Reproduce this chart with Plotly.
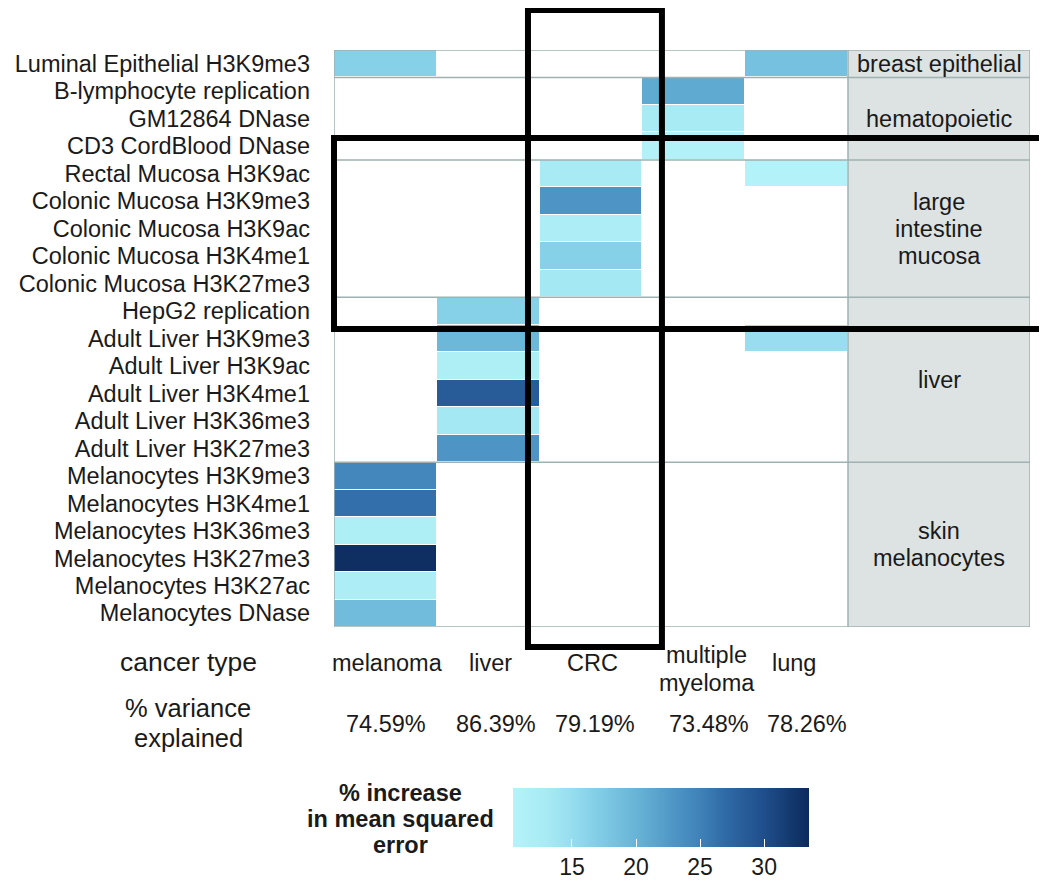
import plotly.graph_objects as go

W, H = 1047, 883
OFF = 8  # page body margin offset in the browser
FONT = "Liberation Sans, Arial, Helvetica, sans-serif"
TXT = "#1a1a1a"
GRID = "#9fb1b1"
TISSUE_FILL = "#dde3e3"

# ---------------- data ----------------
features = [
    "Luminal Epithelial H3K9me3",
    "B-lymphocyte replication",
    "GM12864 DNase",
    "CD3 CordBlood DNase",
    "Rectal Mucosa H3K9ac",
    "Colonic Mucosa H3K9me3",
    "Colonic Mucosa H3K9ac",
    "Colonic Mucosa H3K4me1",
    "Colonic Mucosa H3K27me3",
    "HepG2 replication",
    "Adult Liver H3K9me3",
    "Adult Liver H3K9ac",
    "Adult Liver H3K4me1",
    "Adult Liver H3K36me3",
    "Adult Liver H3K27me3",
    "Melanocytes H3K9me3",
    "Melanocytes H3K4me1",
    "Melanocytes H3K36me3",
    "Melanocytes H3K27me3",
    "Melanocytes H3K27ac",
    "Melanocytes DNase",
]

cancer_types = ["melanoma", "liver", "CRC", "multiple myeloma", "lung"]
variance_explained = ["74.59%", "86.39%", "79.19%", "73.48%", "78.26%"]

N = None
melanoma = [16.5, N, N, N, N, N, N, N, N, N, N, N, N, N, N, 24.5, 26.5, 11.8, 33.0, 12.2, 19.0]
liver = [N, N, N, N, N, N, N, N, N, 16.5, 19.5, 11.8, 28.5, 13.5, 23.0, N, N, N, N, N, N]
crc = [N, N, N, N, 13.0, 23.0, 12.0, 16.5, 13.5, N, N, N, N, N, N, N, N, N, N, N, N]
multiple_myeloma = [N, 21.0, 13.0, 11.0, N, N, N, N, N, N, N, N, N, N, N, N, N, N, N, N, N]
lung = [18.5, N, N, N, 10.8, N, N, N, N, N, 14.8, N, N, N, N, N, N, N, N, N, N]
series = [melanoma, liver, crc, multiple_myeloma, lung]

# tissue groups: (label lines, first row, last row)
tissue_groups = [
    (["breast epithelial"], 0, 0),
    (["hematopoietic"], 1, 3),
    (["large", "intestine", "mucosa"], 4, 8),
    (["liver"], 9, 14),
    (["skin", "melanocytes"], 15, 20),
]

colorbar_ticks = [15, 20, 25, 30]
colorbar_title = ["% increase", "in mean squared", "error"]
zmin, zmax = 10.4, 33.5

# ---------------- geometry helpers ----------------
def px(x):
    return (x - OFF) / W

def py(y):
    return 1 - (y - OFF) / H

left_px, heat_right_px, right_px = 334, 848, 1030
top_px, bottom_px = 50, 627
col_w = (heat_right_px - left_px) / len(cancer_types)
x_right = len(cancer_types) - 0.5 + (right_px - heat_right_px) / col_w
row_h = (bottom_px - top_px) / len(features)

z = [[series[c][r] for c in range(len(cancer_types))] for r in range(len(features))]

def stop(v):
    return (v - zmin) / (zmax - zmin)

colorscale = [
    [0.0, "#b4f3f8"],
    [stop(13), "#a8ebf5"],
    [stop(15), "#96ddef"],
    [stop(17), "#82cde6"],
    [stop(20), "#68b4d7"],
    [stop(23), "#4e95c6"],
    [stop(25), "#3f82b8"],
    [stop(27), "#2f6aa6"],
    [stop(30), "#1f4e8b"],
    [1.0, "#0c2a5c"],
]

fig = go.Figure()
fig.add_trace(go.Heatmap(
    z=z,
    x=list(range(len(cancer_types))),
    y=list(range(len(features))),
    zmin=zmin, zmax=zmax,
    colorscale=colorscale,
    xgap=1, ygap=1,
    hoverongaps=False,
    colorbar=dict(
        orientation="h",
        x=px(661), xanchor="center",
        y=py(788), yanchor="top",
        len=296, lenmode="pixels",
        thickness=59, thicknessmode="pixels",
        outlinewidth=0,
        xpad=0, ypad=0,
        tickvals=colorbar_ticks,
        ticks="inside", tickcolor="white", ticklen=8, tickwidth=1,
        tickfont=dict(family=FONT, size=23, color=TXT),
    ),
))

shapes = []
# tissue column background
shapes.append(dict(type="rect", xref="x", yref="y", x0=len(cancer_types) - 0.5, x1=x_right,
                   y0=-0.5, y1=len(features) - 0.5, fillcolor=TISSUE_FILL,
                   line=dict(width=0), layer="below"))
# horizontal group separators + borders
bounds = [-0.5] + [g[2] + 0.5 for g in tissue_groups]
for b in bounds:
    shapes.append(dict(type="line", xref="x", yref="y", x0=-0.5, x1=x_right, y0=b, y1=b,
                       line=dict(color=GRID, width=1.5), layer="above"))
for xv in [-0.5, len(cancer_types) - 0.5, x_right]:
    shapes.append(dict(type="line", xref="x", yref="y", x0=xv, x1=xv, y0=-0.5,
                       y1=len(features) - 0.5, line=dict(color=GRID, width=1.5), layer="above"))
# black highlight boxes (CRC column and large intestine rows)
shapes.append(dict(type="rect", xref="x", yref="paper",
                   x0=2 - 0.613, x1=2 + 0.69, y0=py(647), y1=py(10),
                   line=dict(color="black", width=6), fillcolor="rgba(0,0,0,0)", layer="above"))
shapes.append(dict(type="rect", xref="paper", yref="y",
                   x0=px(334), x1=1.05, y0=3 - 0.3, y1=9 + 0.65,
                   line=dict(color="black", width=6), fillcolor="rgba(0,0,0,0)", layer="above"))

annotations = []
# tissue labels
line_step = 27 / row_h
for lines, r0, r1 in tissue_groups:
    center = (r0 + r1) / 2
    n = len(lines)
    for i, t in enumerate(lines):
        yv = center + (i - (n - 1) / 2) * line_step
        annotations.append(dict(text=t, xref="x", yref="y",
                                x=(len(cancer_types) - 0.5 + x_right) / 2, y=yv,
                                showarrow=False, xanchor="center", yanchor="middle",
                                font=dict(family=FONT, size=23.5, color=TXT)))

# bottom row titles
annotations.append(dict(text="cancer type", xref="paper", yref="paper", x=px(188), y=py(662),
                        showarrow=False, xanchor="center", yanchor="middle",
                        font=dict(family=FONT, size=26.5, color=TXT)))
for k, t in enumerate(["% variance", "explained"]):
    annotations.append(dict(text=t, xref="paper", yref="paper", x=px(188), y=py(708 + 30 * k),
                            showarrow=False, xanchor="center", yanchor="middle",
                            font=dict(family=FONT, size=25.5, color=TXT)))

name_shift = [2, 2, 1, 13, -3]
pct_shift = [1, 8, 4, 15, 10]
for i, name in enumerate(cancer_types):
    words = name.split(" ")
    if len(words) == 1:
        annotations.append(dict(text=name, xref="x", yref="paper", x=i, y=py(663),
                                xshift=name_shift[i], showarrow=False,
                                xanchor="center", yanchor="middle",
                                font=dict(family=FONT, size=23.5, color=TXT)))
    else:
        for k, w in enumerate(words):
            annotations.append(dict(text=w, xref="x", yref="paper", x=i, y=py(655 + 28 * k),
                                    xshift=name_shift[i], showarrow=False,
                                    xanchor="center", yanchor="middle",
                                    font=dict(family=FONT, size=23.5, color=TXT)))
    annotations.append(dict(text=variance_explained[i], xref="x", yref="paper", x=i, y=py(724),
                            xshift=pct_shift[i], showarrow=False,
                            xanchor="center", yanchor="middle",
                            font=dict(family=FONT, size=23.5, color=TXT)))

# colorbar title
for k, t in enumerate(colorbar_title):
    annotations.append(dict(text="<b>%s</b>" % t, xref="paper", yref="paper", x=px(400),
                            y=py(793 + 26 * k), showarrow=False,
                            xanchor="center", yanchor="middle",
                            font=dict(family=FONT, size=23.5, color=TXT)))

fig.update_layout(
    width=W, height=H,
    margin=dict(l=0, r=0, t=0, b=0),
    paper_bgcolor="white", plot_bgcolor="white",
    showlegend=False,
    xaxis=dict(domain=[px(left_px), px(right_px)], range=[-0.5, x_right],
               showgrid=False, zeroline=False, showticklabels=False, ticks="",
               showline=False, fixedrange=True),
    yaxis=dict(domain=[py(bottom_px), py(top_px)], range=[len(features) - 0.5, -0.5],
               tickvals=list(range(len(features))), ticktext=features,
               tickfont=dict(family=FONT, size=23.5, color=TXT),
               ticklabelstandoff=23,
               showgrid=False, zeroline=False, ticks="", showline=False, fixedrange=True),
    shapes=shapes,
    annotations=annotations,
)

fig.write_html("out.html")
